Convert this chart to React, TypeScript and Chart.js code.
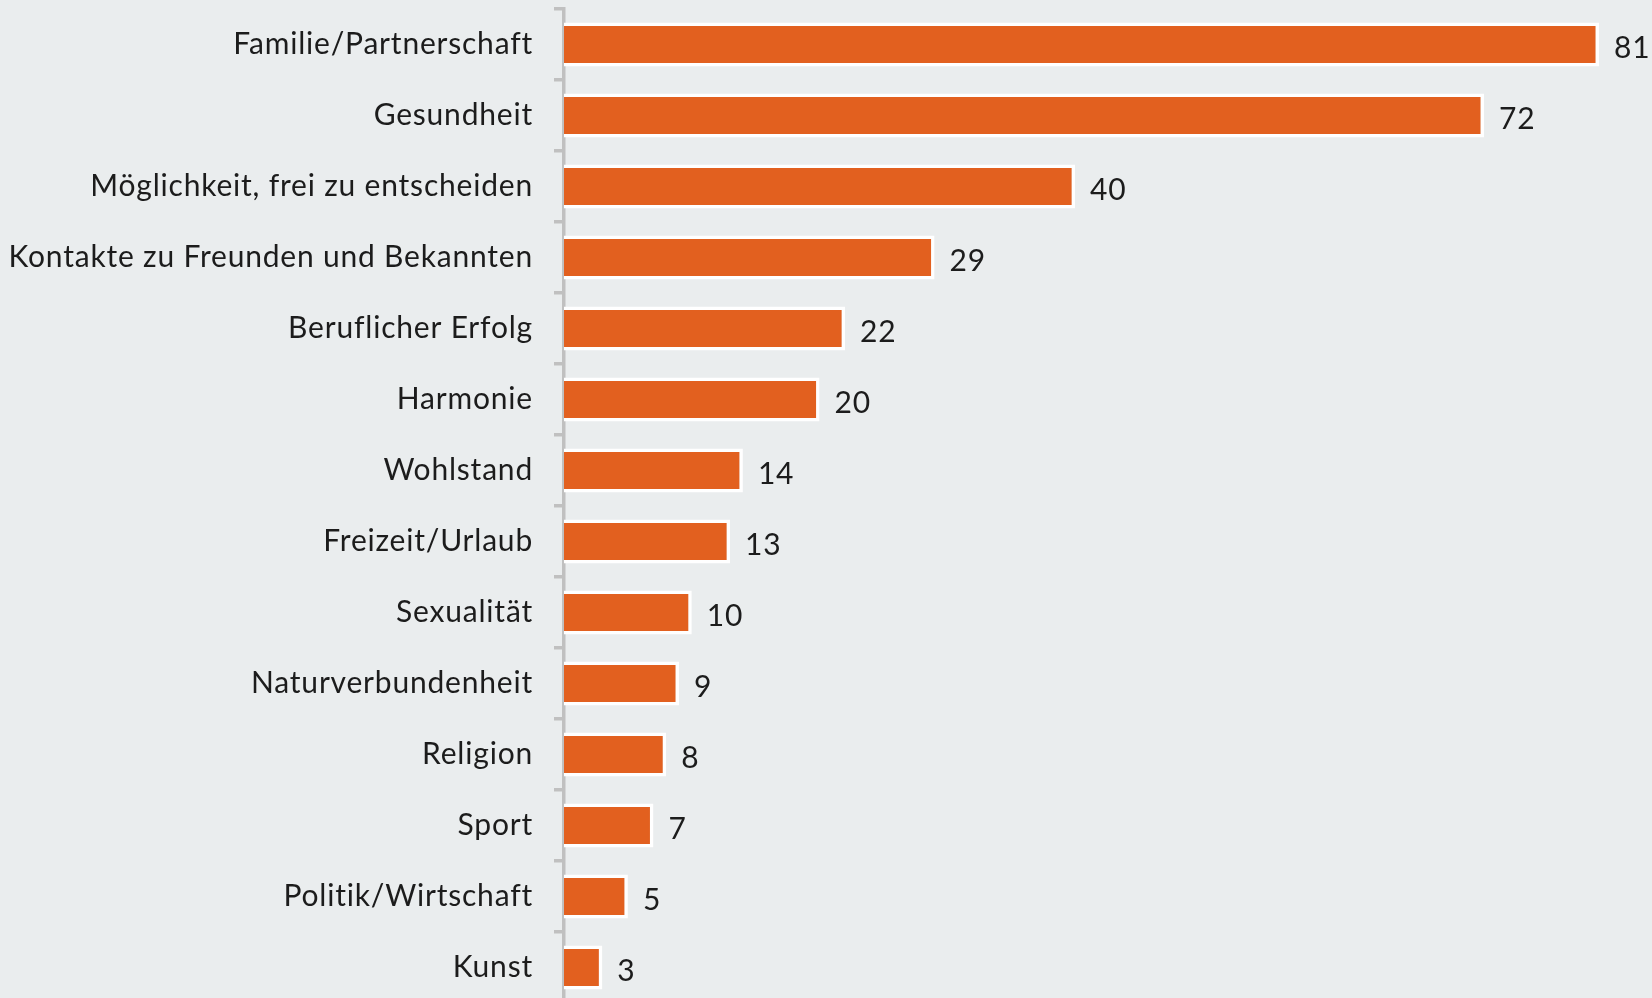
import React, { useEffect, useRef } from "react";
import { Chart, registerables } from "chart.js";

Chart.register(...registerables);

const categories = [
  "Familie/Partnerschaft",
  "Gesundheit",
  "Möglichkeit, frei zu entscheiden",
  "Kontakte zu Freunden und Bekannten",
  "Beruflicher Erfolg",
  "Harmonie",
  "Wohlstand",
  "Freizeit/Urlaub",
  "Sexualität",
  "Naturverbundenheit",
  "Religion",
  "Sport",
  "Politik/Wirtschaft",
  "Kunst",
];

const values = [81, 72, 40, 29, 22, 20, 14, 13, 10, 9, 8, 7, 5, 3];

const FONT = "Lato, 'Open Sans', sans-serif";
const FONT_SIZE = 30;
const BG = "#eaedee";
const BAR = "#e2601f";
const AXIS = "#c0c0c0";
const TEXT = "#1c1c1c";

const valueLabels = {
  id: "valueLabels",
  afterDatasetsDraw(chart: any) {
    const ctx = chart.ctx;
    const meta = chart.getDatasetMeta(0);
    ctx.save();
    ctx.font = `${FONT_SIZE}px ${FONT}`;
    ctx.fillStyle = TEXT;
    ctx.textAlign = "left";
    ctx.textBaseline = "middle";
    meta.data.forEach((bar: any, i: number) => {
      ctx.fillText(String(values[i]), bar.x + 15, bar.y + 4);
    });
    ctx.restore();
  },
};

const bgPlugin = {
  id: "bg",
  beforeDraw(chart: any) {
    const ctx = chart.ctx;
    ctx.save();
    ctx.fillStyle = BG;
    ctx.fillRect(0, 0, chart.width, chart.height);
    ctx.restore();
    ctx.letterSpacing = "0.8px";
  },
};

export default function App() {
  const ref = useRef<HTMLCanvasElement | null>(null);
  useEffect(() => {
    if (!ref.current) return;
    const chart = new Chart(ref.current, {
      type: "bar",
      data: {
        labels: categories,
        datasets: [
          {
            data: values,
            backgroundColor: BAR,
            borderColor: "#ffffff",
            borderWidth: 3.5,
            borderSkipped: "start",
            barPercentage: 0.62,
            categoryPercentage: 1,
          },
        ],
      },
      options: {
        indexAxis: "y",
        animation: false,
        responsive: false,
        maintainAspectRatio: false,
        layout: { padding: { top: 9, bottom: 7, right: 53, left: 0 } },
        plugins: { legend: { display: false }, tooltip: { enabled: false } },
        scales: {
          x: {
            display: false,
            min: 0,
            max: 81,
          },
          y: {
            offset: true,
            afterFit(scale: any) {
              scale.width = 564;
              scale.paddingTop = 0;
              scale.paddingBottom = 0;
            },
            border: { display: true, color: AXIS, width: 3.5 },
            grid: {
              offset: true,
              drawOnChartArea: false,
              drawTicks: true,
              tickLength: 10,
              color: AXIS,
              lineWidth: 3.5,
            },
            ticks: {
              padding: 21,
              color: TEXT,
              font: { family: FONT, size: FONT_SIZE },
            },
          },
        },
      },
      plugins: [bgPlugin, valueLabels],
    });
    return () => chart.destroy();
  }, []);
  return (
    <div style={{ position: "fixed", left: 0, top: 0, width: 1652, height: 1010, background: BG }}>
      <canvas ref={ref} width={1652} height={1010} style={{ display: "block" }} />
    </div>
  );
}
